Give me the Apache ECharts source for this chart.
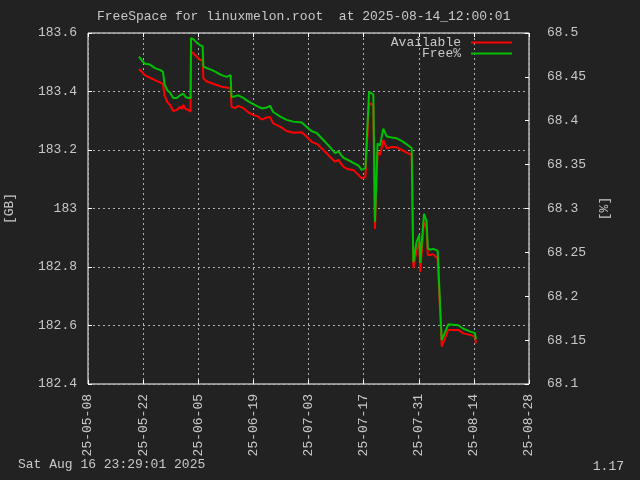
<!DOCTYPE html>
<html><head><meta charset="utf-8">
<script src="https://cdn.jsdelivr.net/npm/echarts@6/dist/echarts.min.js"></script>
<style>html,body{margin:0;padding:0;background:#222222;}#c{width:640px;height:480px;}</style>
</head><body><div id="c"></div>
<script>
const titleText = 'FreeSpace for linuxmelon.root  at 2025-08-14_12:00:01';
const footerLeft = 'Sat Aug 16 23:29:01 2025';
const footerRight = '1.17';
const seriesNames = ['Available', 'Free%'];
const times = [
'2025-05-20 23:00','2025-05-21 15:00','2025-05-22 11:00','2025-05-23 18:00','2025-05-25 00:00',
'2025-05-26 07:00','2025-05-27 01:00','2025-05-27 10:00','2025-05-28 02:00','2025-05-28 20:00',
'2025-05-29 16:00','2025-05-30 13:00','2025-05-31 09:00','2025-05-31 19:00','2025-06-01 05:00',
'2025-06-01 19:00','2025-06-02 11:00','2025-06-03 01:00','2025-06-03 04:00','2025-06-03 18:00',
'2025-06-04 15:00','2025-06-05 11:00','2025-06-06 03:00','2025-06-06 07:00','2025-06-07 04:00',
'2025-06-08 10:00','2025-06-09 16:00','2025-06-10 23:00','2025-06-12 05:00','2025-06-13 05:00',
'2025-06-13 11:00','2025-06-14 08:00','2025-06-15 04:00','2025-06-16 11:00','2025-06-17 17:00',
'2025-06-18 23:00','2025-06-20 06:00','2025-06-21 03:00','2025-06-22 09:00','2025-06-23 05:00',
'2025-06-24 01:00','2025-06-25 18:00','2025-06-27 11:00','2025-06-29 03:00','2025-07-01 07:00',
'2025-07-02 13:00','2025-07-03 20:00','2025-07-05 02:00','2025-07-06 08:00','2025-07-07 15:00',
'2025-07-08 11:00','2025-07-09 18:00','2025-07-10 14:00','2025-07-11 20:00','2025-07-13 03:00',
'2025-07-14 09:00','2025-07-15 16:00','2025-07-16 12:00','2025-07-17 11:00','2025-07-18 09:00',
'2025-07-19 11:00','2025-07-19 21:00','2025-07-20 13:00','2025-07-21 04:00','2025-07-22 00:00',
'2025-07-22 21:00','2025-07-24 03:00','2025-07-25 10:00','2025-07-26 16:00','2025-07-27 23:00',
'2025-07-29 05:00','2025-07-29 15:00','2025-07-30 11:00','2025-07-31 03:00','2025-07-31 09:00',
'2025-08-01 08:00','2025-08-02 00:00','2025-08-02 07:00','2025-08-02 21:00','2025-08-03 15:00',
'2025-08-04 03:00','2025-08-04 19:00','2025-08-05 20:00','2025-08-07 12:00','2025-08-10 01:00',
'2025-08-11 08:00','2025-08-13 00:00','2025-08-14 07:00','2025-08-14 12:00'
];
const availableGB = [
183.476,183.468,183.456,183.447,183.439,
183.431,183.425,183.388,183.365,183.354,
183.333,183.337,183.348,183.340,183.354,
183.340,183.337,183.331,183.536,183.531,
183.519,183.508,183.508,183.445,183.434,
183.428,183.422,183.416,183.414,183.411,
183.348,183.343,183.351,183.343,183.329,
183.320,183.314,183.304,183.311,183.313,
183.291,183.280,183.265,183.259,183.261,
183.245,183.228,183.221,183.206,183.189,
183.177,183.160,183.166,183.143,183.134,
183.132,183.115,183.103,183.108,183.360,
183.354,182.930,183.193,183.183,183.234,
183.206,183.210,183.209,183.200,183.191,
183.183,182.796,182.858,182.885,182.784,
182.955,182.932,182.841,182.841,182.844,
182.841,182.830,182.528,182.585,182.585,
182.573,182.568,182.562,182.539
];
const freePct = [
68.473,68.469,68.465,68.464,68.460,
68.458,68.456,68.442,68.435,68.432,
68.426,68.426,68.429,68.428,68.431,
68.427,68.426,68.426,68.494,68.493,
68.489,68.486,68.485,68.462,68.460,
68.458,68.455,68.452,68.450,68.452,
68.427,68.428,68.429,68.426,68.422,
68.419,68.416,68.414,68.415,68.417,
68.410,68.405,68.401,68.399,68.398,
68.393,68.388,68.386,68.380,68.374,
68.370,68.363,68.365,68.358,68.355,
68.352,68.349,68.344,68.346,68.433,
68.430,68.285,68.374,68.372,68.391,
68.382,68.381,68.380,68.377,68.373,
68.369,68.239,68.262,68.270,68.238,
68.294,68.285,68.255,68.253,68.254,
68.253,68.252,68.150,68.168,68.167,
68.163,68.160,68.158,68.151
];
const xStart = '2025-05-08', xEnd = '2025-08-28', xStepDays = 14;
const yGB = {min: 182.4, max: 183.6, step: 0.2};
const yPct = {min: 68.1, max: 68.5, step: 0.05};

const toMs = s => Date.parse(s.replace(' ', 'T') + (s.length > 10 ? ':00Z' : 'T00:00:00Z'));
const p2 = n => String(n).padStart(2, '0');
const fmtDate = v => { const d = new Date(v); return p2(d.getUTCFullYear() % 100) + '-' + p2(d.getUTCMonth() + 1) + '-' + p2(d.getUTCDate()); };

const FONT = 'Liberation Mono';
const TXT = '#c8c8c8';
const GRIDC = '#b0b0b0';
const dash = {color: GRIDC, type: [2, 3], width: 1};
const xMin = toMs(xStart), xMax = toMs(xEnd), xInt = xStepDays * 86400000;

const chart = echarts.init(document.getElementById('c'), null, {renderer: 'canvas'});
chart.setOption({
  backgroundColor: '#222222',
  animation: false,
  title: {text: titleText, left: 97, top: 10, padding: 0,
    textStyle: {color: TXT, fontFamily: FONT, fontSize: 13, fontWeight: 'normal'}},
  legend: {orient: 'vertical', right: 128, top: 36, align: 'right', padding: 0, itemGap: -2,
    itemWidth: 41, itemHeight: 2, icon: 'rect', data: seriesNames,
    textStyle: {color: TXT, fontFamily: FONT, fontSize: 13, lineHeight: 11, padding: [0, 5, 0, 0]}},
  grid: {left: 88, top: 33, width: 441, height: 351, show: true, borderColor: '#ffffff', borderWidth: 1,
    backgroundColor: 'transparent', containLabel: false, outerBoundsMode: 'none'},
  xAxis: [{
    type: 'value', min: xMin, max: xMax, interval: xInt, position: 'bottom',
    axisLine: {show: false},
    axisTick: {show: true, inside: true, length: 4, lineStyle: {color: '#fff'}},
    axisLabel: {rotate: 90, margin: 10, color: TXT, fontFamily: FONT, fontSize: 13, formatter: fmtDate},
    splitLine: {show: true, lineStyle: dash}
  }, {
    type: 'value', min: xMin, max: xMax, interval: xInt, position: 'top',
    axisLine: {show: false},
    axisTick: {show: true, inside: true, length: 4, lineStyle: {color: '#fff'}},
    axisLabel: {show: false}, splitLine: {show: false}
  }],
  yAxis: [{
    type: 'value', min: yGB.min, max: yGB.max, interval: yGB.step, position: 'left',
    name: '[GB]', nameLocation: 'middle', nameRotate: 90, nameGap: 72,
    nameTextStyle: {color: TXT, fontFamily: FONT, fontSize: 13},
    axisLine: {show: false},
    axisTick: {show: true, inside: true, length: 4, lineStyle: {color: '#fff'}},
    axisLabel: {margin: 11, color: TXT, fontFamily: FONT, fontSize: 13,
      formatter: v => String(parseFloat(v.toFixed(2)))},
    splitLine: {show: true, lineStyle: dash}
  }, {
    type: 'value', min: yPct.min, max: yPct.max, interval: yPct.step, position: 'right',
    name: '[%]', nameLocation: 'middle', nameRotate: 90, nameGap: 69,
    nameTextStyle: {color: TXT, fontFamily: FONT, fontSize: 13},
    axisLine: {show: false},
    axisTick: {show: true, inside: true, length: 4, lineStyle: {color: '#fff'}},
    axisLabel: {margin: 18, color: TXT, fontFamily: FONT, fontSize: 13,
      formatter: v => String(parseFloat(v.toFixed(2)))},
    splitLine: {show: false}
  }],
  series: [{
    name: seriesNames[0], type: 'line', yAxisIndex: 0, xAxisIndex: 0, showSymbol: false,
    color: '#ff0000', lineStyle: {width: 2, color: '#ff0000'},
    data: times.map((t, i) => [toMs(t), availableGB[i]])
  }, {
    name: seriesNames[1], type: 'line', yAxisIndex: 1, xAxisIndex: 0, showSymbol: false,
    color: '#00c000', lineStyle: {width: 2, color: '#00c000'},
    data: times.map((t, i) => [toMs(t), freePct[i]])
  }],
  graphic: [
    {type: 'text', left: 18, top: 458, style: {text: footerLeft, fill: TXT, font: '13px "Liberation Mono"'}},
    {type: 'text', right: 16, top: 460, style: {text: footerRight, fill: TXT, font: '13px "Liberation Mono"'}}
  ]
});
</script></body></html>
